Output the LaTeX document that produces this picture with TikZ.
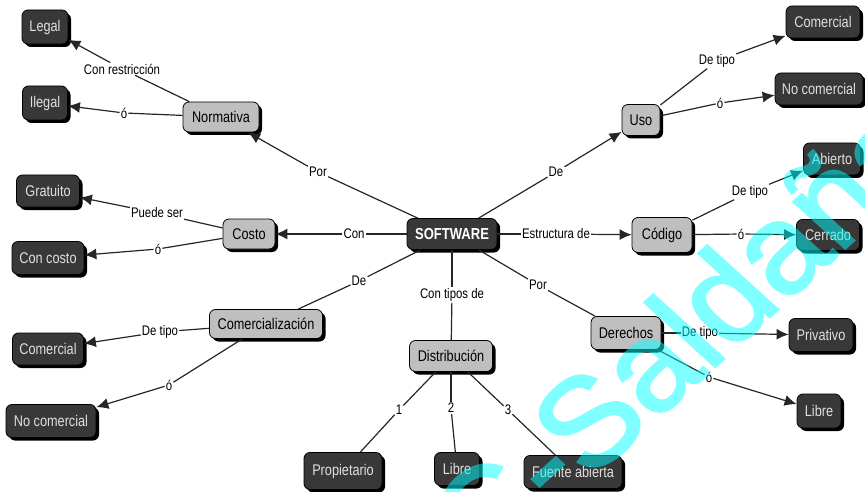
\documentclass[tikz,border=0pt]{standalone}
\usepackage{fontspec}
\setmainfont[FakeStretch=0.82]{Liberation Sans}
\newfontfamily\markfont[FakeBold=2]{Liberation Sans}
\usetikzlibrary{arrows.meta}
\usetikzlibrary{shadows}
\definecolor{markcyan}{RGB}{0,255,255}
\tikzset{>={Latex[length=12pt,width=11pt]}}
\tikzstyle{box} = [rectangle, rounded corners=6pt, draw=black, thick, inner sep=0pt, drop shadow={shadow xshift=3pt, shadow yshift=-3pt, opacity=1, fill=black}]
\tikzstyle{term} = [box, fill=black!78, text=white!88!black, font=\fontsize{15.5}{17}\selectfont]
\tikzstyle{concept} = [box, fill=black!25, text=black, font=\fontsize{15.5}{17}\selectfont]
\tikzstyle{lab} = [fill=white, inner sep=1pt, font=\fontsize{13.9}{15}\selectfont]
\tikzstyle{link} = [-, line width=1.2pt, black!85]
\tikzstyle{linkto} = [->, line width=1.2pt, black!85]

\begin{document}
\begin{tikzpicture}[x=1pt, y=-1pt]
\useasboundingbox (0,0) rectangle (865,492);
% main node
\node [box, fill=black!78, text=white, font=\bfseries\fontsize{15.9}{17}\selectfont, minimum width=90pt, minimum height=31pt] (soft) at (452,234) {SOFTWARE};
% concepts
\node [concept, minimum width=76pt, minimum height=30pt] (norm) at (221,117) {Normativa};
\node [concept, minimum width=52pt, minimum height=30pt] (costo) at (249,234) {Costo};
\node [concept, minimum width=113pt, minimum height=29pt] (comer) at (266,324) {Comercialización};
\node [concept, minimum width=83pt, minimum height=31pt] (dist) at (451,356) {Distribución};
\node [concept, minimum width=70pt, minimum height=33pt] (der) at (626,333) {Derechos};
\node [concept, minimum width=38pt, minimum height=31pt] (uso) at (641,120) {Uso};
\node [concept, minimum width=60pt, minimum height=35pt] (cod) at (662,235) {Código};
% terms, left side
\node [term, minimum width=46pt, minimum height=34pt] (legal) at (45,27) {Legal};
\node [term, minimum width=45pt, minimum height=34pt] (ilegal) at (45,103) {Ilegal};
\node [term, minimum width=63pt, minimum height=32pt] (grat) at (48,191) {Gratuito};
\node [term, minimum width=72pt, minimum height=33pt] (ccosto) at (48,258) {Con costo};
\node [term, minimum width=71pt, minimum height=32pt] (comL) at (48,349) {Comercial};
\node [term, minimum width=90pt, minimum height=33pt] (nocomL) at (51,421) {No comercial};
% terms, bottom
\node [term, minimum width=78pt, minimum height=37pt] (prop) at (343,471) {Propietario};
\node [term, minimum width=45pt, minimum height=33pt] (libreB) at (457,469) {Libre};
\node [term, minimum width=98pt, minimum height=33pt] (fuente) at (573,472) {Fuente abierta};
% terms, right side
\node [term, minimum width=74pt, minimum height=32pt] (comR) at (823,22) {Comercial};
\node [term, minimum width=88pt, minimum height=32pt] (nocomR) at (819,89) {No comercial};
\node [term, minimum width=57pt, minimum height=32pt] (abi) at (832,159) {Abierto};
\node [term, minimum width=63pt, minimum height=31pt] (cer) at (828,235) {Cerrado};
\node [term, minimum width=64pt, minimum height=33pt] (priv) at (821,335) {Privativo};
\node [term, minimum width=44pt, minimum height=34pt] (libreR) at (819,411) {Libre};
% link labels
\node [lab] (l1) at (122,69) {Con restricción};
\node [lab] (l2) at (124,113) {ó};
\node [lab] (l3) at (318,172) {Por};
\node [lab] (l4) at (157,213) {Puede ser};
\node [lab] (l5) at (158,249) {ó};
\node [lab] (l6) at (354,234) {Con};
\node [lab] (l7) at (359,281) {De};
\node [lab] (l8) at (160,332) {De tipo};
\node [lab] (l9) at (169,385) {ó};
\node [lab] (l10) at (452,295) {Con tipos de};
\node [lab] (l11) at (399,410) {1};
\node [lab] (l12) at (451,408) {2};
\node [lab] (l13) at (508,410) {3};
\node [lab] (l14) at (538,285) {Por};
\node [lab] (l15) at (700,333) {De tipo};
\node [lab] (l16) at (709,377) {ó};
\node [lab] (l17) at (556,234) {Estructura de};
\node [lab] (l18) at (556,172) {De};
\node [lab] (l19) at (717,61) {De tipo};
\node [lab] (l20) at (720,103) {ó};
\node [lab] (l21) at (750,192) {De tipo};
\node [lab] (l22) at (741,234) {ó};
% connectors
\draw [link] (norm) to (l1);
\draw [linkto] (l1) to (legal);
\draw [link] (norm) to (l2);
\draw [linkto] (l2) to (ilegal);
\draw [link] (soft) to (l3);
\draw [linkto] (l3) to (norm);
\draw [link] (costo) to (l4);
\draw [linkto] (l4) to (grat);
\draw [link] (costo) to (l5);
\draw [linkto] (l5) to (ccosto);
\draw [link] (soft) to (l6);
\draw [linkto] (l6) to (costo);
\draw [link] (soft) to (l7);
\draw [link] (l7) to (comer);
\draw [link] (comer) to (l8);
\draw [linkto] (l8) to (comL);
\draw [link] (comer) to (l9);
\draw [linkto] (l9) to (nocomL);
\draw [link] (soft) to (l10);
\draw [link] (l10) to (dist);
\draw [link] (dist) to (l11);
\draw [link] (l11) to (prop);
\draw [link] (dist) to (l12);
\draw [link] (l12) to (libreB);
\draw [link] (dist) to (l13);
\draw [link] (l13) to (fuente);
\draw [link] (soft) to (l14);
\draw [link] (l14) to (der);
\draw [link] (der) to (l15);
\draw [linkto] (l15) to (priv);
\draw [link] (der) to (l16);
\draw [linkto] (l16) to (libreR);
\draw [link] (soft) to (l17);
\draw [linkto] (l17) to (cod);
\draw [link] (soft) to (l18);
\draw [linkto] (l18) to (uso);
\draw [link] (uso) to (l19);
\draw [linkto] (l19) to (comR);
\draw [link] (uso) to (l20);
\draw [linkto] (l20) to (nocomR);
\draw [link] (cod) to (l21);
\draw [linkto] (l21) to (abi);
\draw [link] (cod) to (l22);
\draw [linkto] (l22) to (cer);
% watermark
\begin{scope}
\clip (0,0) rectangle (865,492);
\begin{scope}[transparency group, opacity=.5]
\begin{scope}[shift={(487,574)}, xscale=1.1, transform shape]
\node [text=markcyan, rotate=45, anchor=base west, inner sep=0pt, font=\markfont\fontsize{125}{125}\selectfont] (mark) at (0,0) {C-Saldaña};
\end{scope}
\end{scope}
\end{scope}
\end{tikzpicture}
\end{document}
